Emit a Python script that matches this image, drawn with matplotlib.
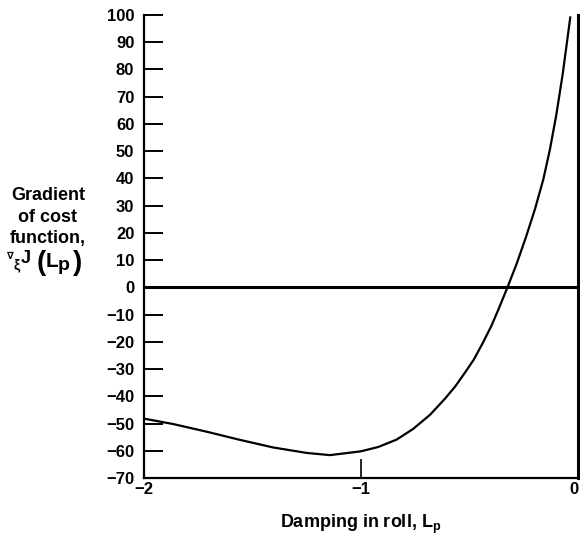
import matplotlib
matplotlib.use("Agg")
import matplotlib.pyplot as plt

# Data
lp = [-2.0, -1.865, -1.711, -1.558, -1.404, -1.25, -1.143, -1.0, -0.92,
      -0.836, -0.76, -0.682, -0.611, -0.565, -0.52, -0.48, -0.44, -0.40,
      -0.365, -0.325, -0.283, -0.240, -0.198, -0.160, -0.130, -0.100,
      -0.070, -0.035]
grad = [-48.2, -50.2, -53.0, -56.0, -58.8, -60.8, -61.6, -60.2, -58.6,
        -55.9, -52.0, -46.8, -40.7, -36.3, -31.2, -26.5, -20.6, -14.3,
        -7.8, 0.0, 8.6, 18.4, 28.8, 39.6, 50.4, 63.3, 78.6, 99.5]
xticks = [-2, -1, 0]
yticks = list(range(-70, 101, 10))

FONT = "Liberation Sans"
plt.rcParams["font.family"] = [FONT, "DejaVu Sans"]
plt.rcParams["font.weight"] = "bold"

W, H = 580, 543
fig = plt.figure(figsize=(W / 100, H / 100), dpi=100)
ax = fig.add_axes([144 / W, 1 - 478 / H, 434 / W, 463 / H])

ax.plot(lp, grad, color="black", lw=1.6, solid_capstyle="butt",
        solid_joinstyle="round")
ax.axhline(0, color="black", lw=2.2)

ax.set_xlim(-2, 0)
ax.set_ylim(-70, 100)
ax.set_xticks(xticks)
ax.set_xticklabels(["\u22122", "\u22121", "0"])
ax.set_yticks(yticks)
ax.set_yticklabels([("\u2212" + str(-v)) if v < 0 else str(v) for v in yticks])

ax.spines["top"].set_visible(False)
ax.spines["left"].set_linewidth(1.6)
ax.spines["bottom"].set_linewidth(1.6)
ax.spines["right"].set_linewidth(2.2)

ax.tick_params(axis="y", direction="in", length=14, width=1.4, pad=7,
               labelsize=12)
ax.tick_params(axis="x", direction="in", length=14, width=1.2, pad=3,
               labelsize=12)
for lab in ax.get_xticklabels() + ax.get_yticklabels():
    lab.set_fontweight("bold")
ax.get_xticklabels()[-1].set_horizontalalignment("right")
ax.get_xticklabels()[-1].set_x(0.0)

ax.set_xlabel(r"Damping in roll, L$_{\mathregular{p}}$", fontsize=13,
              fontweight="bold", labelpad=11)


def px(x, y):
    return x / W, 1 - y / H


# y-axis label block
fs = 13
for txt, yc in [("Gradient", 195), ("of cost", 217), ("function,", 239)]:
    fig.text(*px(48, yc), txt, ha="center", va="center", fontsize=fs,
             fontweight="bold")

B = 263  # baseline of the last line
pieces = [
    ("\u2207", 10.5, B - 4, 7, "DejaVu Sans"),
    ("\u03be", 16.5, B + 6, 10, FONT),
    ("J", 26, B, 13, FONT),
    ("(", 41, B + 7, 20, FONT),
    ("L", 52, B + 4, 15, FONT),
    ("p", 64, B + 7, 14, FONT),
    (")", 77.5, B + 7, 20, FONT),
]
for s, xc, yb, size, fam in pieces:
    fig.text(*px(xc, yb), s, ha="center", va="baseline", fontsize=size,
             fontweight="bold", family=[fam, "DejaVu Sans"])

fig.savefig("out.png", dpi=100)
